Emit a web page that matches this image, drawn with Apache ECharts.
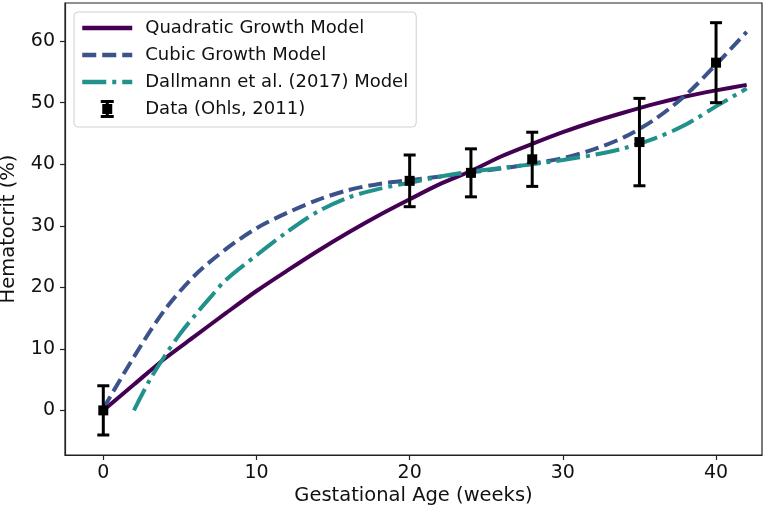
<!DOCTYPE html>
<html>
<head>
<meta charset="utf-8">
<script src="https://cdn.jsdelivr.net/npm/echarts@6/dist/echarts.min.js"></script>
<style>html,body{margin:0;padding:0;background:#fff;}#c{width:766px;height:515px;}</style>
</head>
<body>
<div id="c"></div>
<script>
// ---- data ----
const modelWeeks = [0,2,4,6,8,10,12,14,16,18,20,22,24,26,28,30,32,34,36,38,40,42];
const quadraticValues = [0,4.2,8.4,12.1,15.8,19.4,22.7,25.9,28.9,31.7,34.3,36.8,38.9,41.3,43.3,45.2,46.9,48.4,49.8,51.0,52.0,52.9];
const cubicValues = [0.3,8.7,16.3,22.0,26.2,29.6,32.1,34.2,35.8,36.8,37.4,38.0,38.7,39.3,40.1,41.0,42.4,44.4,47.3,51.2,56.2,61.5];
const dallmannWeeks = [2,3,4,5,6,7,8,10,12,14,16,18,20,22,24,26,28,30,32,34,36,38,40,42];
const dallmannValues = [0,4.8,8.8,12.4,15.5,18.4,21.2,25.2,29.0,32.3,34.6,36.0,37.0,38.0,38.8,39.4,40.0,40.7,41.5,42.6,44.2,46.4,49.4,52.3];
const dataWeeks = [0,20,24,28,35,40];
const dataValues = [0,37.3,38.6,40.8,43.6,56.5];
const dataErrors = [4.0,4.2,3.9,4.4,7.1,6.5];
const xTicks = [0,10,20,30,40];
const yTicks = [0,10,20,30,40,50,60];
const names = ['Quadratic Growth Model','Cubic Growth Model','Dallmann et al. (2017) Model','Data (Ohls, 2011)'];

const pair = (xs, ys) => xs.map((x, i) => [x, ys[i]]);
const FONT = 'DejaVu Sans';
const COLORS = ['#440154', '#3b528b', '#21918c'];
const DASHES = ['solid', [14, 6], [24, 6, 4, 6]];
const errIcon = 'path://M0 0 M50 18 M18.5 0 L31.5 0 L31.5 3 L26.5 3 L26.5 4 L30 4 L30 14 L26.5 14 L26.5 15 L31.5 15 L31.5 18 L18.5 18 L18.5 15 L23.5 15 L23.5 14 L20 14 L20 4 L23.5 4 L23.5 3 L18.5 3 Z';
const hiddenSym = {opacity: 0, borderWidth: 0};

const chart = echarts.init(document.getElementById('c'), null, {renderer: 'canvas'});
chart.setOption({
  animation: false,
  backgroundColor: '#fff',
  textStyle: {fontFamily: FONT},
  grid: {left: 65, top: 3, right: 4, bottom: 60, show: true, borderColor: '#222', borderWidth: 1.2,
         containLabel: false, outerBoundsMode: 'none'},
  legend: {
    left: 74, top: 12, orient: 'vertical',
    backgroundColor: 'rgba(255,255,255,0.8)', borderColor: '#d0d0d0', borderWidth: 1, borderRadius: 4,
    padding: [7, 8, 9, 6], itemGap: 9, itemWidth: 50, itemHeight: 18,
    textStyle: {fontFamily: FONT, fontSize: 18, color: '#111', padding: [0, 0, 0, 8]},
    data: [
      {name: names[0], itemStyle: hiddenSym, lineStyle: {color: COLORS[0], width: 4.5, type: DASHES[0], opacity: 1}},
      {name: names[1], itemStyle: hiddenSym, lineStyle: {color: COLORS[1], width: 4.5, type: DASHES[1], opacity: 1}},
      {name: names[2], itemStyle: hiddenSym, lineStyle: {color: COLORS[2], width: 4.5, type: DASHES[2], opacity: 1}},
      {name: names[3], icon: errIcon, itemStyle: {color: '#000', opacity: 1}}
    ]
  },
  xAxis: {
    type: 'value', min: -2.5, max: 43,
    name: 'Gestational Age (weeks)', nameLocation: 'middle', nameGap: 31, nameMoveOverlap: false,
    nameTextStyle: {fontFamily: FONT, fontSize: 19.5, color: '#111'},
    axisLine: {show: true, onZero: false, lineStyle: {color: '#222', width: 1.2}},
    axisTick: {show: true, length: 5, customValues: xTicks, lineStyle: {color: '#222', width: 1.2}},
    axisLabel: {customValues: xTicks, fontFamily: FONT, fontSize: 19, color: '#111', margin: 9},
    splitLine: {show: false}
  },
  yAxis: {
    type: 'value', min: -7.25, max: 66.2,
    name: 'Hematocrit (%)', nameLocation: 'middle', nameGap: 46, nameMoveOverlap: false,
    nameTextStyle: {fontFamily: FONT, fontSize: 19.5, color: '#111'},
    axisLine: {show: true, onZero: false, lineStyle: {color: '#222', width: 1.2}},
    axisTick: {show: true, length: 5, customValues: yTicks, lineStyle: {color: '#222', width: 1.2}},
    axisLabel: {customValues: yTicks, fontFamily: FONT, fontSize: 19, color: '#111', margin: 10},
    splitLine: {show: false}
  },
  series: [
    {name: names[0], type: 'line', data: pair(modelWeeks, quadraticValues), smooth: 0.3, symbol: 'none',
     lineStyle: {color: COLORS[0], width: 4}, itemStyle: {color: COLORS[0]}, z: 2},
    {name: names[1], type: 'line', data: pair(modelWeeks, cubicValues), smooth: 0.3, symbol: 'none',
     lineStyle: {color: COLORS[1], width: 4, type: DASHES[1]}, itemStyle: {color: COLORS[1]}, z: 3},
    {name: names[2], type: 'line', data: pair(dallmannWeeks, dallmannValues), smooth: 0.3, symbol: 'none',
     lineStyle: {color: COLORS[2], width: 4, type: DASHES[2]}, itemStyle: {color: COLORS[2]}, z: 4},
    {name: 'errorbars', type: 'custom', z: 5,
     data: dataWeeks.map((x, i) => [x, dataValues[i] - dataErrors[i], dataValues[i] + dataErrors[i]]),
     renderItem: function (params, api) {
       const lo = api.coord([api.value(0), api.value(1)]);
       const hi = api.coord([api.value(0), api.value(2)]);
       const hw = 6;
       const st = {stroke: '#000', lineWidth: 3};
       return {type: 'group', children: [
         {type: 'line', shape: {x1: lo[0], y1: lo[1], x2: hi[0], y2: hi[1]}, style: st},
         {type: 'line', shape: {x1: lo[0] - hw, y1: lo[1], x2: lo[0] + hw, y2: lo[1]}, style: st},
         {type: 'line', shape: {x1: hi[0] - hw, y1: hi[1], x2: hi[0] + hw, y2: hi[1]}, style: st}
       ]};
     }},
    {name: names[3], type: 'scatter', data: pair(dataWeeks, dataValues), symbol: 'rect', symbolSize: 10,
     itemStyle: {color: '#000', opacity: 1}, z: 6}
  ]
});
</script>
</body>
</html>
